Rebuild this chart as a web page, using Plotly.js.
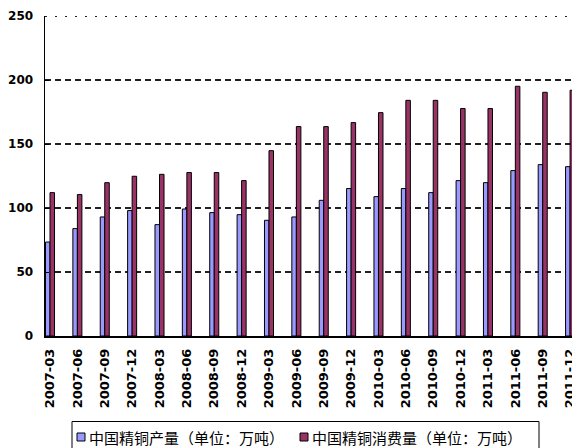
<!DOCTYPE html>
<html>
<head>
<meta charset="utf-8">
<script src="https://cdn.plot.ly/plotly-3.0.1.min.js"></script>
<style>
  html, body { margin: 0; padding: 0; background: #fff; }
  #chart { width: 572px; height: 448px; }
</style>
</head>
<body>
<div id="chart"></div>
<script>
// Quarterly periods
const quarters = [
  "2007-03", "2007-06", "2007-09", "2007-12",
  "2008-03", "2008-06", "2008-09", "2008-12",
  "2009-03", "2009-06", "2009-09", "2009-12",
  "2010-03", "2010-06", "2010-09", "2010-12",
  "2011-03", "2011-06", "2011-09", "2011-12"
];

// Refined copper output, 10k tonnes
const output = [
  73.4, 83.9, 93.0, 98.0,
  87.0, 99.2, 96.4, 94.8,
  90.4, 93.0, 106.0, 115.2,
  108.9, 115.2, 112.0, 121.4,
  119.8, 129.2, 133.9, 132.3
];

// Refined copper consumption, 10k tonnes
const consumption = [
  112.0, 110.5, 119.8, 124.8,
  126.3, 127.7, 127.7, 121.4,
  144.8, 163.6, 163.6, 166.7,
  174.5, 184.1, 184.1, 177.7,
  177.7, 195.1, 190.4, 192.0
];

const seriesNames = ["中国精铜产量（单位：万吨）", "中国精铜消费量（单位：万吨）"];
const seriesColors = ["#9999FF", "#993366"];
const yTicks = [0, 50, 100, 150, 200, 250];

// Plot area geometry (pixels) used to place the hand-built legend
const W = 572, H = 448;
const M = { l: 45, r: 0, t: 16, b: 112 };
const plotW = W - M.l - M.r, plotH = H - M.t - M.b;
const px = x => (x - M.l) / plotW;
const py = y => (H - M.b - y) / plotH;

const traces = [output, consumption].map((vals, i) => ({
  type: "bar",
  x: quarters,
  y: vals,
  name: seriesNames[i],
  marker: { color: seriesColors[i], line: { color: "#000", width: 1 } },
  showlegend: false,
  hoverinfo: "x+y"
}));

const shapes = [
  // top border: dotted instead of dashed
  { type: "line", xref: "paper", yref: "y", x0: 0, x1: 1, y0: 250, y1: 250,
    line: { color: "#fff", width: 3 } },
  { type: "line", xref: "paper", yref: "y", x0: 0, x1: 1, y0: 250, y1: 250,
    line: { color: "#222", width: 2, dash: "2px,8px" } },
  // legend frame
  { type: "rect", xref: "paper", yref: "paper",
    x0: px(72), x1: px(539), y0: py(421.5), y1: py(460),
    line: { color: "#000", width: 1 }, fillcolor: "rgba(0,0,0,0)" }
];

const legendSwatchX = [77, 300];
const legendTextX = [87, 310];
const annotations = [];
seriesNames.forEach((name, i) => {
  shapes.push({
    type: "rect", xref: "paper", yref: "paper",
    x0: px(legendSwatchX[i]), x1: px(legendSwatchX[i] + 8),
    y0: py(433), y1: py(441),
    fillcolor: seriesColors[i], line: { color: "#000", width: 1 }
  });
  annotations.push({
    xref: "paper", yref: "paper",
    x: px(legendTextX[i]), y: py(437.5),
    xanchor: "left", yanchor: "middle",
    text: name, showarrow: false,
    font: { family: "Noto Sans CJK SC", size: 15, color: "#000" }
  });
});

const layout = {
  width: W, height: H,
  margin: M,
  paper_bgcolor: "#fff",
  plot_bgcolor: "#fff",
  barmode: "group",
  bargap: 0.67,
  bargroupgap: 0,
  font: { family: "DejaVu Sans", color: "#000" },
  xaxis: {
    type: "category",
    range: [-0.183, 19.07],
    showgrid: false,
    showline: true, linecolor: "#000", linewidth: 1.5,
    ticks: "",
    tickangle: -90,
    ticklabelstandoff: 6,
    tickfont: { family: "DejaVu Sans", size: 13, weight: "bold", color: "#000" },
    zeroline: false
  },
  yaxis: {
    range: [0, 250],
    tickvals: yTicks,
    showgrid: true, gridcolor: "#222", gridwidth: 1.5, griddash: "6px,4px",
    showline: true, linecolor: "#000", linewidth: 1.5,
    ticks: "inside", ticklen: 4, tickcolor: "#000",
    ticklabelstandoff: 8,
    tickfont: { family: "DejaVu Sans", size: 12, weight: "bold", color: "#000" },
    zeroline: false
  },
  shapes: shapes,
  annotations: annotations
};

Plotly.newPlot("chart", traces, layout, { displayModeBar: false, staticPlot: true });
</script>
</body>
</html>
